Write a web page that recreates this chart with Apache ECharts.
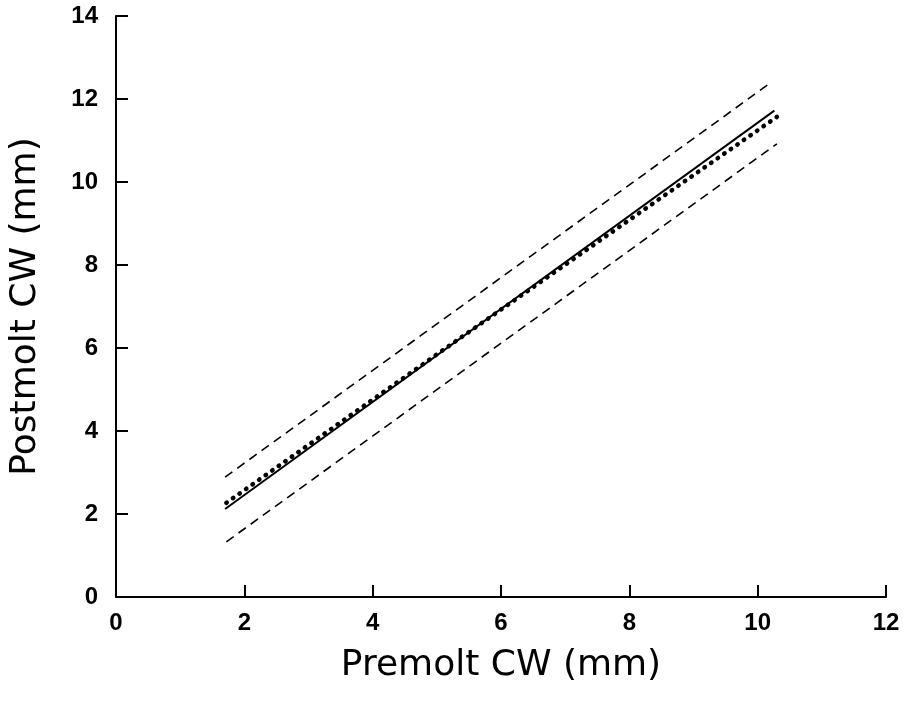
<!DOCTYPE html>
<html>
<head>
<meta charset="utf-8">
<script src="https://cdn.jsdelivr.net/npm/echarts@6/dist/echarts.min.js"></script>
<style>
  html, body { margin: 0; padding: 0; background: #fff; }
  #chart { width: 910px; height: 701px; }
</style>
</head>
<body>
<div id="chart"></div>
<script>
// fitted line (solid), other line (dotted), and the two dashed limits
const fitLine = [[1.7, 2.12], [10.26, 11.72]];
const dottedLine = [[1.72, 2.27], [5.05, 5.9], [10.3, 11.57]];
const upperBand = [[1.7, 2.89], [10.2, 12.39]];
const lowerBand = [[1.72, 1.33], [10.3, 10.92]];

const xTicks = [0, 2, 4, 6, 8, 10, 12];
const yTicks = [0, 2, 4, 6, 8, 10, 12, 14];

const chart = echarts.init(document.getElementById('chart'));

const tickFont = {
  color: '#000',
  fontSize: 24,
  fontWeight: 'bold',
  fontFamily: 'Liberation Sans, Arial, sans-serif'
};
const nameFont = {
  color: '#000',
  fontSize: 36,
  fontFamily: 'DejaVu Sans, sans-serif'
};

chart.setOption({
  animation: false,
  backgroundColor: '#fff',
  grid: { left: 116, right: 24, top: 16, bottom: 104, containLabel: false, outerBoundsMode: 'none' },
  xAxis: {
    type: 'value',
    min: 0,
    max: 12,
    interval: 2,
    name: 'Premolt CW (mm)',
    nameLocation: 'middle',
    nameGap: 51,
    nameTextStyle: nameFont,
    axisLine: { show: true, lineStyle: { color: '#000', width: 2 } },
    axisTick: { show: true, inside: true, length: 12, lineStyle: { color: '#000', width: 2 } },
    axisLabel: Object.assign({ margin: 14, formatter: v => xTicks.includes(v) ? String(v) : '' }, tickFont),
    splitLine: { show: false }
  },
  yAxis: {
    type: 'value',
    min: 0,
    max: 14,
    interval: 2,
    name: 'Postmolt CW (mm)',
    nameLocation: 'middle',
    nameGap: 72,
    nameTextStyle: nameFont,
    axisLine: { show: true, lineStyle: { color: '#000', width: 2 } },
    axisTick: { show: true, inside: true, length: 12, lineStyle: { color: '#000', width: 2 } },
    axisLabel: Object.assign({ margin: 18, formatter: v => yTicks.includes(v) ? String(v) : '' }, tickFont),
    splitLine: { show: false }
  },
  series: [
    {
      type: 'line',
      data: fitLine,
      showSymbol: false,
      lineStyle: { color: '#000', width: 2 }
    },
    {
      type: 'line',
      data: dottedLine,
      showSymbol: false,
      lineStyle: { color: '#000', width: 4.5, type: [0.5, 7.5], cap: 'round' }
    },
    {
      type: 'line',
      data: upperBand,
      showSymbol: false,
      lineStyle: { color: '#000', width: 1.6, type: [9, 6] }
    },
    {
      type: 'line',
      data: lowerBand,
      showSymbol: false,
      lineStyle: { color: '#000', width: 1.6, type: [9, 6] }
    }
  ]
});
</script>
</body>
</html>
